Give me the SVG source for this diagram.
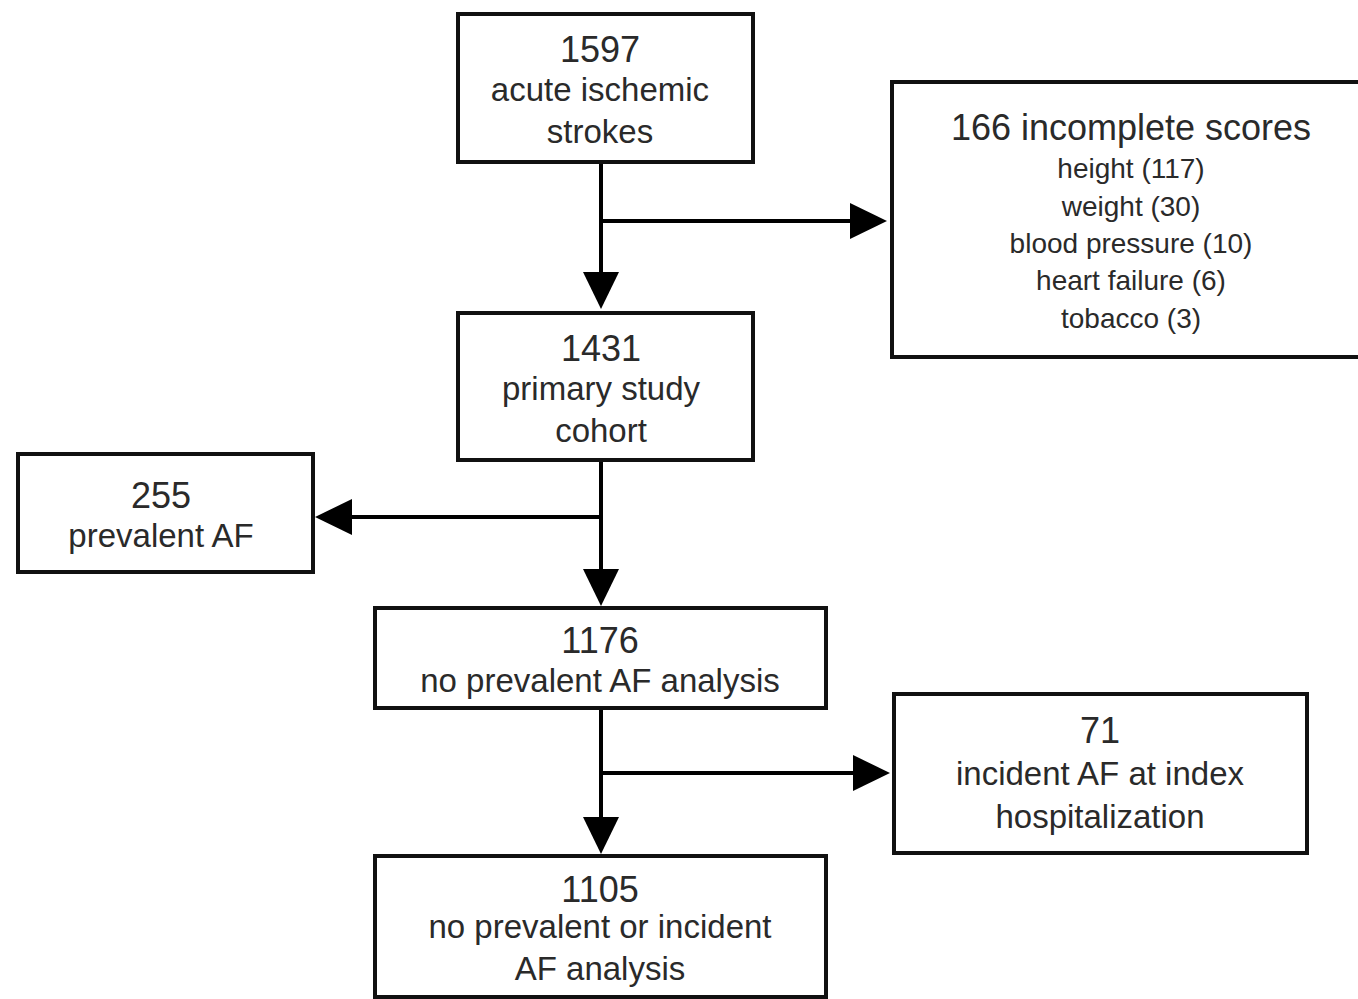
<svg xmlns="http://www.w3.org/2000/svg" width="1358" height="999" viewBox="0 0 1358 999">
<defs>
<marker id="arrow" viewBox="0 0 37 36" refX="1" refY="18" markerWidth="37" markerHeight="36" markerUnits="userSpaceOnUse" orient="auto">
<path d="M0,0 L37,18 L0,36 Z" fill="#000"/>
</marker>
<style>
.box{fill:#fff;stroke:#111;stroke-width:4}
.t{font-family:"Liberation Sans",Arial,sans-serif;fill:#2a2a2a;text-anchor:middle;font-size:33px}
.num{font-size:36px}
.big{font-size:36px}
.sm{font-size:28px}
.con{stroke:#000;stroke-width:4;fill:none}
</style>
</defs>
<rect width="1358" height="999" fill="#fff"/>
<g id="connectors">
<path class="con" d="M601,162 V273" marker-end="url(#arrow)"/>
<path class="con" d="M601,221 H851" marker-end="url(#arrow)"/>
<path class="con" d="M601,460 V570" marker-end="url(#arrow)"/>
<path class="con" d="M601,517 H351" marker-end="url(#arrow)"/>
<path class="con" d="M601,708 V818" marker-end="url(#arrow)"/>
<path class="con" d="M601,773 H854" marker-end="url(#arrow)"/>
</g>
<g id="n1597">
<rect class="box" x="458" y="14" width="295" height="148"/>
<text class="t num" x="600" y="62">1597</text>
<text class="t" x="600" y="101">acute ischemic</text>
<text class="t" x="600" y="143">strokes</text>
</g>
<g id="nIncomplete">
<rect class="box" x="892" y="82" width="490" height="275"/>
<text class="t big" x="1131" y="140">166 incomplete scores</text>
<text class="t sm" x="1131" y="178">height (117)</text>
<text class="t sm" x="1131" y="216">weight (30)</text>
<text class="t sm" x="1131" y="253">blood pressure (10)</text>
<text class="t sm" x="1131" y="290">heart failure (6)</text>
<text class="t sm" x="1131" y="328">tobacco (3)</text>
</g>
<g id="n1431">
<rect class="box" x="458" y="313" width="295" height="147"/>
<text class="t num" x="601" y="361">1431</text>
<text class="t" x="601" y="400">primary study</text>
<text class="t" x="601" y="442">cohort</text>
</g>
<g id="n255">
<rect class="box" x="18" y="454" width="295" height="118"/>
<text class="t num" x="161" y="508">255</text>
<text class="t" x="161" y="547">prevalent AF</text>
</g>
<g id="n1176">
<rect class="box" x="375" y="608" width="451" height="100"/>
<text class="t num" x="600" y="653">1176</text>
<text class="t" x="600" y="692">no prevalent AF analysis</text>
</g>
<g id="n71">
<rect class="box" x="894" y="694" width="413" height="159"/>
<text class="t num" x="1100" y="743">71</text>
<text class="t" x="1100" y="785">incident AF at index</text>
<text class="t" x="1100" y="828">hospitalization</text>
</g>
<g id="n1105">
<rect class="box" x="375" y="856" width="451" height="141"/>
<text class="t num" x="600" y="902">1105</text>
<text class="t" x="600" y="938">no prevalent or incident</text>
<text class="t" x="600" y="980">AF analysis</text>
</g>
</svg>
